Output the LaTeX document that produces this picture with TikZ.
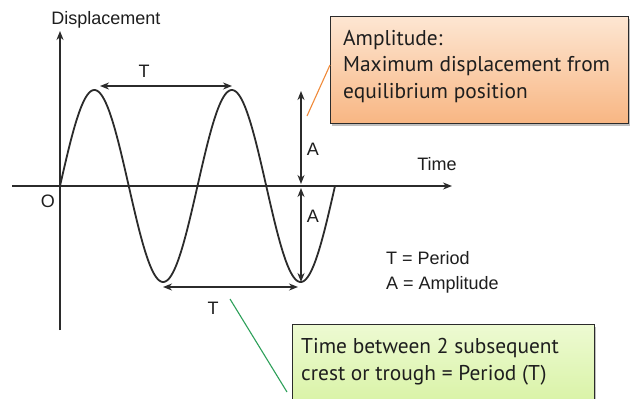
\documentclass[tikz,border=0pt]{standalone}
\usepackage{fontspec}
\setmainfont{Liberation Sans}
\newfontfamily\boxfont{PT Sans}
\usetikzlibrary{arrows.meta}
\definecolor{axcol}{HTML}{2B2B2B}
\definecolor{txtcol}{HTML}{1E1E1E}
\definecolor{orTop}{HTML}{FDE6D2}
\definecolor{orBot}{HTML}{F8B683}
\definecolor{orLine}{HTML}{F08A3A}
\definecolor{grTop}{HTML}{EDFAD2}
\definecolor{grBot}{HTML}{D6F2A0}
\definecolor{grLine}{HTML}{2EA05A}
\begin{document}
\begin{tikzpicture}[x=1pt,y=-1pt,
  tip/.style={-{Stealth[length=9pt,width=7pt]}},
  axis/.style={line width=1.5pt, draw=axcol, tip},
  dbl/.style={line width=1.5pt, draw=axcol, {Stealth[length=9pt,width=7pt]}-{Stealth[length=9pt,width=7pt]}},
  wave/.style={line width=1.8pt, draw=axcol},
  lbl/.style={font=\fontsize{18}{20}\selectfont, text=txtcol, inner sep=0pt},
  btxt/.style={font=\boxfont\fontsize{21.4}{26}\selectfont, text=txtcol, inner sep=0pt, anchor=base west},
  obox/.style={draw=axcol, line width=1.2pt, top color=orTop, bottom color=orBot, anchor=north west, inner sep=0pt},
  gbox/.style={draw=axcol, line width=1.2pt, top color=grTop, bottom color=grBot, anchor=north west, inner sep=0pt},
  shad/.style={fill=black!25, draw=none, anchor=north west, inner sep=0pt}
]
\useasboundingbox (0,0) rectangle (630,399);
\fill[white] (0,0) rectangle (630,399);

% axes
\coordinate (yb) at (60,330);
\coordinate (yt) at (60,31);
\coordinate (xl) at (12,186);
\coordinate (xr) at (452,186);
\draw[axis] (yb) -- (yt);
\draw[axis] (xl) -- (xr);
\node[lbl] (disp) at (106,20) {Displacement};
\node[lbl] (time) at (437,164) {Time};
\node[lbl] (orig) at (48,201) {O};

% wave
\draw[wave] plot[domain=0:275, samples=220, smooth] ({60+\x}, {186-96*sin(\x*2.61818)});

% crest / trough points
\coordinate (c1) at (100,86);
\coordinate (c2) at (232,86);
\coordinate (t1) at (163,287);
\coordinate (t2) at (298,287);
\draw[dbl] (c1) -- (c2);
\node[lbl] (Ttop) at (144,71) {T};
\draw[dbl] (t1) -- (t2);
\node[lbl] (Tbot) at (213,308) {T};

% amplitude arrows
\coordinate (a1) at (301,91);
\coordinate (a2) at (301,184);
\coordinate (a3) at (301,188);
\coordinate (a4) at (301,282);
\draw[dbl] (a1) -- (a2);
\draw[dbl] (a3) -- (a4);
\node[lbl] (Atop) at (313,149) {A};
\node[lbl] (Abot) at (313,216) {A};

% legend
\node[lbl, anchor=west] (leg1) at (386,258) {T = Period};
\node[lbl, anchor=west] (leg2) at (386,285) {A = Amplitude};

% amplitude box
\node[shad, minimum width=298pt, minimum height=107pt] at (332,19) {};
\node[obox, minimum width=298pt, minimum height=107pt] (ampbox) at (330,16) {};
\node[btxt] (amp1) at (343,45) {Amplitude:};
\node[btxt] (amp2) at (343,71.5) {Maximum displacement from};
\node[btxt] (amp3) at (343,98) {equilibrium position};
\coordinate (oc) at (307,116);
\draw[orLine, line width=1.1pt] (oc) -- (ampbox.west |- 0,65);

% period box
\node[shad, minimum width=302pt, minimum height=90pt] at (294,327) {};
\node[gbox, minimum width=302pt, minimum height=90pt] (perbox) at (292,324) {};
\node[btxt] (per1) at (301,353) {Time between 2 subsequent};
\node[btxt] (per2) at (301,380) {crest or trough = Period (T)};
\coordinate (gc) at (230,299);
\coordinate (ge) at (287,392);
\draw[grLine, line width=1.1pt] (gc) -- (ge);
\end{tikzpicture}
\end{document}
